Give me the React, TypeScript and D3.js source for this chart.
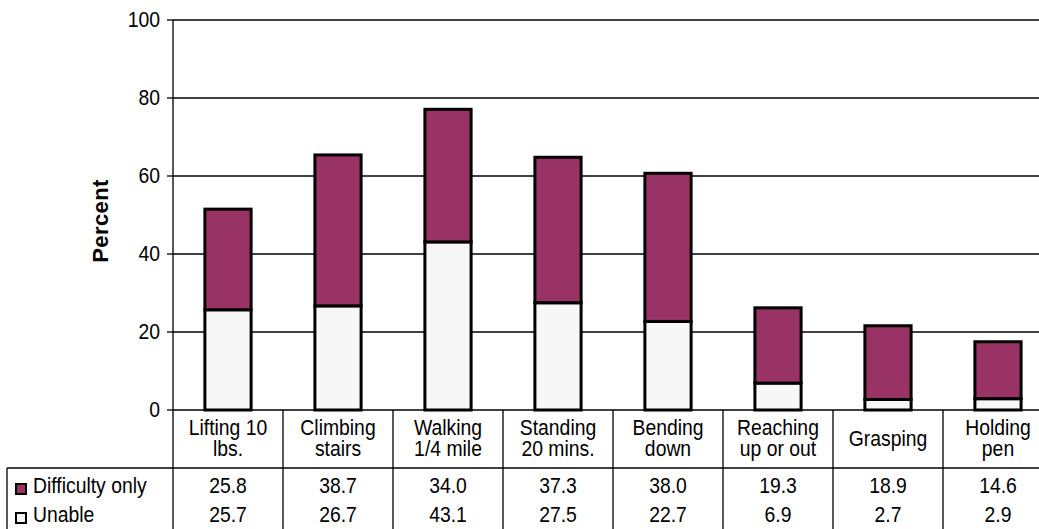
import React from "react";
import * as d3 from "d3";

const categories: string[][] = [
  ["Lifting 10", "lbs."],
  ["Climbing", "stairs"],
  ["Walking", "1/4 mile"],
  ["Standing", "20 mins."],
  ["Bending", "down"],
  ["Reaching", "up or out"],
  ["Grasping"],
  ["Holding", "pen"],
];
const unable = [25.7, 26.7, 43.1, 27.5, 22.7, 6.9, 2.7, 2.9];
const difficultyOnly = [25.8, 38.7, 34.0, 37.3, 38.0, 19.3, 18.9, 14.6];
const unableLabels = ["25.7", "26.7", "43.1", "27.5", "22.7", "6.9", "2.7", "2.9"];
const difficultyLabels = ["25.8", "38.7", "34.0", "37.3", "38.0", "19.3", "18.9", "14.6"];
const yTicks = [0, 20, 40, 60, 80, 100];
const seriesNames = ["Difficulty only", "Unable"];

const W = 1039;
const H = 529;
const FONT = "'Liberation Sans', Arial, Helvetica, sans-serif";
const PLUM = "#993366";
const LIGHT = "#F7F7F7";
const FS = 22;
const SX = 0.88;

function T({
  x,
  y,
  anchor = "start",
  lines,
  lh = 21.5,
}: {
  x: number;
  y: number;
  anchor?: "start" | "middle" | "end";
  lines: string[];
  lh?: number;
}) {
  return (
    <text
      transform={`translate(${x},${y}) scale(${SX},1)`}
      textAnchor={anchor}
      fontFamily={FONT}
      fontSize={FS}
      fill="#000"
    >
      {lines.map((l, j) => (
        <tspan key={j} x={0} dy={j === 0 ? 0 : lh}>
          {l}
        </tspan>
      ))}
    </text>
  );
}

export default function App() {
  const keys = categories.map((c) => c.join(" "));
  const x = d3.scaleBand<string>().domain(keys).range([173, 1053]).padding(0);
  const y = d3.scaleLinear().domain([0, 100]).range([410, 20]);
  const bw = x.bandwidth() * 0.42;
  const tableTop = 410;
  const headerBottom = 468;
  const row1 = 493;
  const row2 = 522;

  return (
    <svg
      width={W}
      height={H}
      style={{ position: "absolute", left: 0, top: 0, background: "#fff" }}
    >
      {yTicks.map((t) => (
        <g key={t}>
          {t > 0 && (
            <line x1={173} x2={W} y1={y(t)} y2={y(t)} stroke="#000" strokeWidth={1.3} />
          )}
          <line x1={167} x2={173} y1={y(t)} y2={y(t)} stroke="#000" strokeWidth={1.3} />
          <T x={160} y={y(t) + 7} anchor="end" lines={[String(t)]} />
        </g>
      ))}
      <line x1={173} x2={173} y1={y(100)} y2={H} stroke="#000" strokeWidth={1.3} />
      <line x1={173} x2={W} y1={y(0)} y2={y(0)} stroke="#000" strokeWidth={1.3} />

      {keys.map((k, i) => {
        const cx = (x(k) as number) + x.bandwidth() / 2;
        const u = unable[i];
        const d = difficultyOnly[i];
        return (
          <g key={k}>
            <rect
              x={cx - bw / 2}
              y={y(u)}
              width={bw}
              height={y(0) - y(u)}
              fill={LIGHT}
              stroke="#000"
              strokeWidth={3}
            />
            <rect
              x={cx - bw / 2}
              y={y(u + d)}
              width={bw}
              height={y(u) - y(u + d)}
              fill={PLUM}
              stroke="#000"
              strokeWidth={3}
            />
          </g>
        );
      })}

      <line x1={7} x2={W} y1={headerBottom} y2={headerBottom} stroke="#000" strokeWidth={1.3} />
      <line x1={7} x2={7} y1={headerBottom} y2={H} stroke="#000" strokeWidth={1.3} />
      {keys.map((k, i) => {
        const x0 = x(k) as number;
        const cx = x0 + x.bandwidth() / 2;
        const lines = categories[i];
        const firstBase = lines.length === 1 ? 446 : 435;
        return (
          <g key={k}>
            <line
              x1={x0 + x.bandwidth()}
              x2={x0 + x.bandwidth()}
              y1={tableTop}
              y2={H}
              stroke="#000"
              strokeWidth={1.3}
            />
            <T x={cx} y={firstBase} anchor="middle" lines={lines} />
            <T x={cx} y={row1} anchor="middle" lines={[difficultyLabels[i]]} />
            <T x={cx} y={row2} anchor="middle" lines={[unableLabels[i]]} />
          </g>
        );
      })}

      <rect x={16} y={484} width={10} height={10} fill={PLUM} stroke="#000" strokeWidth={2} />
      <T x={33} y={row1} lines={[seriesNames[0]]} />
      <rect x={16} y={513} width={10} height={10} fill={LIGHT} stroke="#000" strokeWidth={2} />
      <T x={33} y={row2} lines={[seriesNames[1]]} />

      <text
        transform="translate(108,221) rotate(-90)"
        textAnchor="middle"
        fontFamily={FONT}
        fontSize={22}
        fontWeight="bold"
        letterSpacing={0.4}
      >
        Percent
      </text>
    </svg>
  );
}
